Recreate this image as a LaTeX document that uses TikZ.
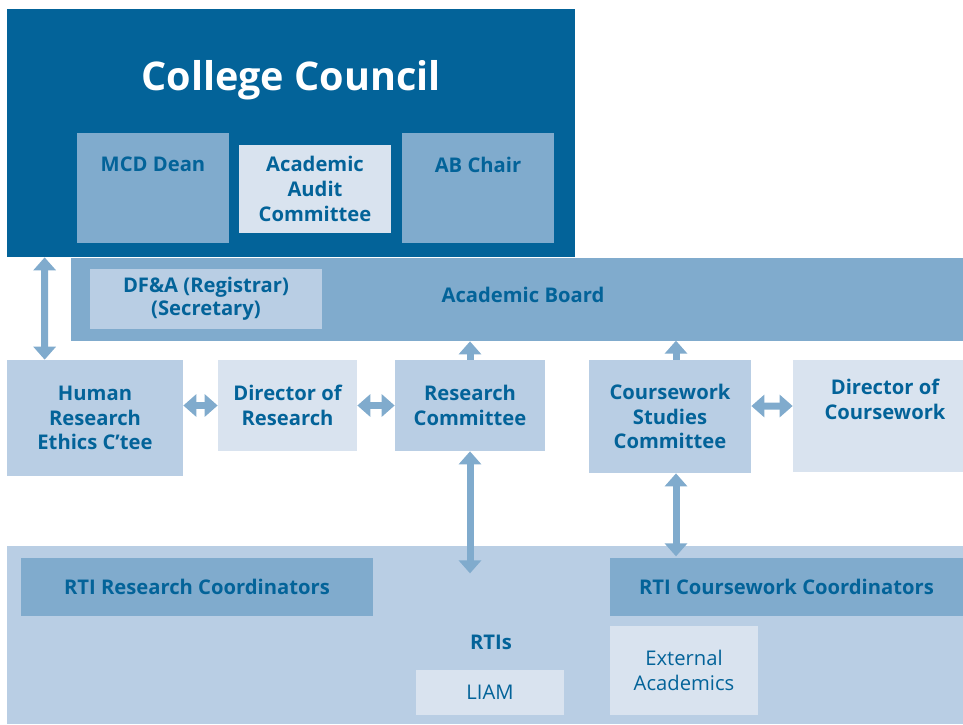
\documentclass[tikz,border=0pt]{standalone}
\usepackage{fontspec}
\setmainfont{Open Sans}
\usetikzlibrary{arrows.meta}
\usetikzlibrary{calc}
\definecolor{ccblue}{RGB}{3,99,153}
\definecolor{abblue}{RGB}{128,171,205}
\definecolor{rtiblue}{RGB}{185,206,228}
\definecolor{paleblue}{RGB}{217,227,239}

\begin{document}
\begin{tikzpicture}[>={Triangle[width=0.44cm,length=0.26cm]},
    every node/.style={inner sep=0pt, align=center, text=ccblue,
      font=\fontsize{11.5}{14}\selectfont\bfseries},
    link/.style={<->, draw=abblue, line width=0.14cm},
    uplink/.style={->, draw=abblue, line width=0.14cm}]

      \useasboundingbox (0,0) rectangle (19.26,-14.48);

      % college council
      \node at (5.82,-2.66) [fill=ccblue, minimum width=11.36cm, minimum height=4.96cm, name=cc] {};
      \node at (5.82,-1.6) [text=white, font=\fontsize{22.5}{27}\selectfont\bfseries, name=cctitle]
      {College Council};

      \node at (3.06,-3.76) [fill=abblue, minimum width=3.04cm, minimum height=2.2cm, name=mcd,
      label={[anchor=center, yshift=-0.64cm]north:MCD Dean}] {};

      \node at (6.3,-3.78) [fill=paleblue, minimum width=3.04cm, minimum height=1.76cm, name=audit]
      {Academic\\Audit\\Committee};

      \node at (9.56,-3.76) [fill=abblue, minimum width=3.04cm, minimum height=2.2cm, name=abchair,
      label={[anchor=center, yshift=-0.64cm]north:AB Chair}] {};

      % academic board
      \node at (10.34,-5.99) [fill=abblue, minimum width=17.84cm, minimum height=1.66cm, name=ab,
      label={[anchor=center, xshift=0.12cm, yshift=0.09cm]center:Academic Board}] {};

      \node at (4.12,-5.98) [fill=rtiblue, minimum width=4.64cm, minimum height=1.2cm, name=dfa,
      font=\fontsize{11.5}{13}\selectfont\bfseries] {DF\&A (Registrar)\\(Secretary)};

      % committees
      \node at (1.9,-8.36) [fill=rtiblue, minimum width=3.52cm, minimum height=2.32cm, name=hrec]
      {Human\\Research\\Ethics C’tee};

      \node at (5.75,-8.11) [fill=paleblue, minimum width=2.78cm, minimum height=1.82cm, name=dres]
      {Director of\\Research};

      \node at (9.4,-8.11) [fill=rtiblue, minimum width=3.0cm, minimum height=1.82cm, name=rescom]
      {Research\\Committee};

      \node at (13.4,-8.33) [fill=rtiblue, minimum width=3.24cm, minimum height=2.26cm, name=csc]
      {Coursework\\Studies\\Committee};

      \node at (17.56,-8.32) [fill=paleblue, minimum width=3.4cm, minimum height=2.24cm, name=dcw,
      label={[anchor=center, xshift=0.14cm, yshift=-0.8cm]north:Director of\\Coursework}] {};

      % RTIs
      \node at (9.7,-12.7) [fill=rtiblue, minimum width=19.12cm, minimum height=3.56cm, name=rtis,
      label={[anchor=center, xshift=0.12cm, yshift=-0.14cm]center:RTIs}] {};

      \node at (3.94,-11.74) [fill=abblue, minimum width=7.04cm, minimum height=1.16cm, name=rtires]
      {RTI Research Coordinators};

      \node at (15.73,-11.74) [fill=abblue, minimum width=7.06cm, minimum height=1.16cm, name=rticw]
      {RTI Coursework Coordinators};

      \node at (13.68,-13.41) [fill=paleblue, minimum width=2.96cm, minimum height=1.78cm, name=ext,
      font=\fontsize{11.5}{14}\selectfont] {External\\Academics};

      \node at (9.8,-13.85) [fill=paleblue, minimum width=2.96cm, minimum height=0.9cm, name=liam,
      font=\fontsize{11.5}{14}\selectfont] {LIAM};

      \draw [link] ($(hrec.north west)+(0.76,0)$) -- ($(cc.south west)+(0.76,0)$);
      \draw [link] (hrec.east |- dres.west) -- (dres.west);
      \draw [link] (dres.east) -- (rescom.west);
      \draw [link] ($(csc.east)+(0,0.21)$) -- ($(dcw.west)+(0,0.2)$);

      \draw [uplink] (rescom.north) -- (rescom.north |- ab.south);
      \draw [uplink] ($(csc.north)+(0.12,0)$) -- ($(csc.north)+(0.12,0.38)$);

      \draw [link] (rescom.south) -- ++(0,-2.44);
      \draw [link] ($(csc.south)+(0.12,0)$) -- ++(0,-1.66);
    \end{tikzpicture}
\end{document}
